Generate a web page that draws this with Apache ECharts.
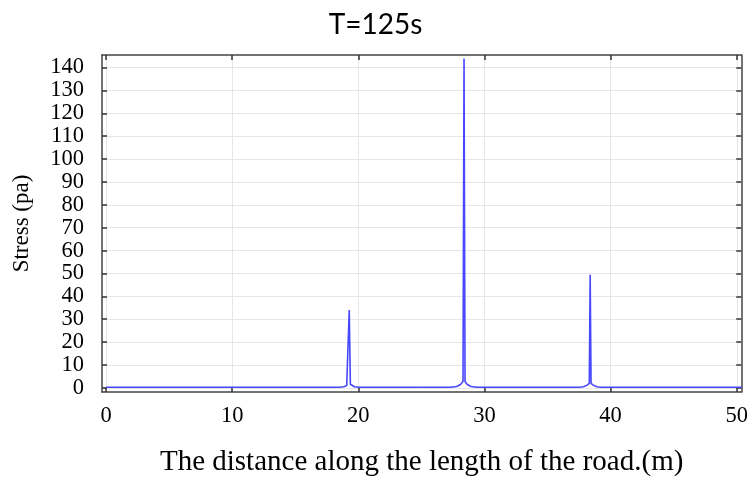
<!DOCTYPE html>
<html>
<head>
<meta charset="utf-8">
<script src="https://cdn.jsdelivr.net/npm/echarts@6/dist/echarts.min.js"></script>
<style>html,body{margin:0;padding:0;background:#fff;}#c{width:751px;height:482px;}</style>
</head>
<body>
<div id="c"></div>
<script>
const titleText = 'T=125s';
const xName = 'The distance along the length of the road.(m)';
const yName = 'Stress (pa)';
const xTicks = [0, 10, 20, 30, 40, 50];
const yTicks = [0, 10, 20, 30, 40, 50, 60, 70, 80, 90, 100, 110, 120, 130, 140];
const distance = [0, 18.5, 18.85, 19.08, 19.19, 19.28, 19.37, 19.48, 19.7, 20.0,
  27.3, 27.8, 28.1, 28.3, 28.38, 28.46, 28.64, 28.94, 29.4,
  37.5, 37.85, 38.14, 38.31, 38.38, 38.45, 38.62, 38.9, 39.2, 50.4];
const stress = [0.3, 0.3, 0.5, 1.0, 1.6, 34.0, 1.6, 1.0, 0.5, 0.3,
  0.3, 0.6, 1.5, 2.8, 144.0, 2.8, 1.5, 0.6, 0.3,
  0.3, 0.5, 1.2, 2.0, 49.4, 2.0, 1.2, 0.5, 0.3, 0.3];

const serif = '"Liberation Serif","Times New Roman",serif';
const chart = echarts.init(document.getElementById('c'));
const lineStyle = {color: '#444', width: 1.5};
function xAx(pos, labels) {
  return {
    type: 'value', position: pos, min: -0.32, max: 50.36,
    axisLine: {show: true, onZero: false, lineStyle: lineStyle},
    axisTick: {show: true, inside: true, length: 5, customValues: xTicks, lineStyle: {color: '#333', width: 1.5}},
    axisLabel: {show: labels, customValues: xTicks, fontFamily: serif, fontSize: 22.5, color: '#000', margin: 13},
    splitLine: {show: labels, lineStyle: {color: '#e6e6e6', width: 1}},
    name: labels ? xName : '', nameLocation: 'middle', nameGap: 56,
    nameTextStyle: {fontFamily: serif, fontSize: 29, color: '#000'}
  };
}
function yAx(pos, labels) {
  return {
    type: 'value', position: pos, min: -1.8, max: 145.5,
    axisLine: {show: true, onZero: false, lineStyle: lineStyle},
    axisTick: {show: true, inside: true, length: 5, customValues: yTicks, lineStyle: {color: '#333', width: 1.5}},
    axisLabel: {show: labels, customValues: yTicks, fontFamily: serif, fontSize: 22.5, color: '#000', margin: 18},
    splitLine: {show: labels, lineStyle: {color: '#e6e6e6', width: 1}},
    name: labels ? yName : '', nameLocation: 'middle', nameGap: 69,
    nameTextStyle: {fontFamily: serif, fontSize: 23, color: '#000'}
  };
}
chart.setOption({
  animation: false,
  backgroundColor: '#fff',
  title: {text: titleText, left: 'center', top: 6,
    textStyle: {fontFamily: 'Lato, "Open Sans", sans-serif', fontSize: 28, fontWeight: 'normal', color: '#000'}},
  grid: {left: 102, right: 6.5, top: 55, bottom: 86.5, containLabel: false},
  xAxis: [xAx('bottom', true), xAx('top', false)],
  yAxis: [yAx('left', true), yAx('right', false)],
  series: [{
    type: 'line', xAxisIndex: 0, yAxisIndex: 0,
    data: distance.map((d, i) => [d, stress[i]]),
    showSymbol: false, symbol: 'none',
    lineStyle: {color: '#4848ff', width: 1.6},
    itemStyle: {color: '#4848ff'}
  }]
});
</script>
</body>
</html>
